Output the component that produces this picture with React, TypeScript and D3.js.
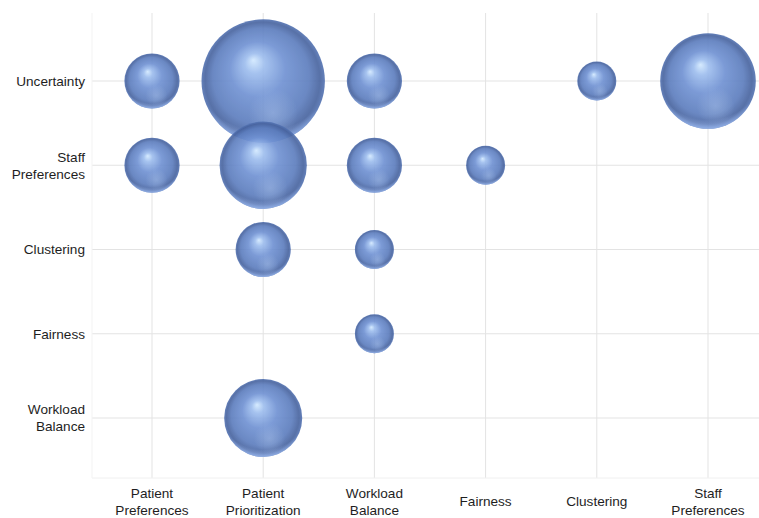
import * as d3 from "d3";

const xCategories: string[][] = [
  ["Patient", "Preferences"],
  ["Patient", "Prioritization"],
  ["Workload", "Balance"],
  ["Fairness"],
  ["Clustering"],
  ["Staff", "Preferences"],
];
const yCategories: string[][] = [
  ["Uncertainty"],
  ["Staff", "Preferences"],
  ["Clustering"],
  ["Fairness"],
  ["Workload", "Balance"],
];

// bubble = (x index, y index, count)
const xIdx = [0, 1, 2, 4, 5, 0, 1, 2, 3, 1, 2, 2, 1];
const yIdx = [0, 0, 0, 0, 0, 1, 1, 1, 1, 2, 2, 3, 4];
const counts = [2, 10, 2, 1, 6, 2, 5, 2, 1, 2, 1, 1, 4];

function App() {
  const width = 759;
  const height = 518;
  const plot = { left: 92, right: 759, top: 13, bottom: 478 };

  const x = d3.scalePoint<number>().domain(d3.range(xCategories.length)).range([152, 708]);
  const y = d3.scalePoint<number>().domain(d3.range(yCategories.length)).range([81, 418]);
  const r = d3.scaleSqrt().domain([0, 10]).range([0, 61.7]);

  const font = "'Liberation Sans', Arial, sans-serif";
  const fontSize = 13.6;
  const lineH = 17;

  const bubbles = counts.map((c, i) => ({ x: xIdx[i], y: yIdx[i], c }));

  return (
    <svg width={width} height={height} style={{ position: "absolute", left: 0, top: 0 }}>
      <defs>
        <radialGradient id="sphere" cx="0.5" cy="0.5" r="0.5" fx="0.42" fy="0.33">
          <stop offset="0" stopColor="#d2e9ff" />
          <stop offset="0.16" stopColor="#9dbdee" />
          <stop offset="0.45" stopColor="#6e90d2" />
          <stop offset="0.78" stopColor="#5b7cbd" />
          <stop offset="0.93" stopColor="#46629e" />
          <stop offset="1" stopColor="#5373b3" />
        </radialGradient>
        <radialGradient id="rim" cx="0.5" cy="0.3" r="0.72">
          <stop offset="0.84" stopColor="#8fb0ec" stopOpacity="0" />
          <stop offset="0.95" stopColor="#8fb0ec" stopOpacity="0.7" />
          <stop offset="1" stopColor="#9dbcf3" stopOpacity="0.9" />
        </radialGradient>
        <radialGradient id="spot" cx="0.58" cy="0.76" r="0.2">
          <stop offset="0" stopColor="#a9c3ec" stopOpacity="0.4" />
          <stop offset="1" stopColor="#a9c3ec" stopOpacity="0" />
        </radialGradient>
        <clipPath id="plotClip">
          <rect x={plot.left} y={0} width={plot.right - plot.left} height={height} />
        </clipPath>
      </defs>
      <rect width={width} height={height} fill="#fff" />

      {/* grid */}
      <g stroke="#e3e3e3" strokeWidth={1}>
        {x.domain().map((d) => (
          <line key={"vx" + d} x1={x(d)} x2={x(d)} y1={plot.top} y2={plot.bottom} />
        ))}
        {y.domain().map((d) => (
          <line key={"hy" + d} x1={plot.left} x2={plot.right} y1={y(d)} y2={y(d)} />
        ))}
        <line x1={plot.left} x2={plot.right} y1={plot.bottom} y2={plot.bottom} stroke="#f0f0f0" />
        <line x1={plot.left} x2={plot.left} y1={plot.top} y2={plot.bottom} stroke="#f3f3f3" />
      </g>

      {/* bubbles */}
      <g clipPath="url(#plotClip)">
        {bubbles.map((b, i) => {
          const cx = x(b.x)!;
          const cy = y(b.y)!;
          const rr = r(b.c);
          return (
            <g key={i} opacity={0.9}>
              <circle cx={cx} cy={cy} r={rr} fill="url(#sphere)" />
              <circle cx={cx} cy={cy} r={rr} fill="url(#spot)" />
              <circle cx={cx} cy={cy} r={rr} fill="url(#rim)" />
            </g>
          );
        })}
      </g>

      {/* y labels */}
      <g fontFamily={font} fontSize={fontSize} fill="#1e1e1e" textAnchor="end">
        {yCategories.map((lines, i) => (
          <text key={i} x={85} y={y(i)! - ((lines.length - 1) * lineH) / 2}>
            {lines.map((l, j) => (
              <tspan key={j} x={85} dy={j === 0 ? "0.35em" : lineH}>
                {l}
              </tspan>
            ))}
          </text>
        ))}
      </g>

      {/* x labels */}
      <g fontFamily={font} fontSize={fontSize} fill="#1e1e1e" textAnchor="middle">
        {xCategories.map((lines, i) => (
          <text key={i} x={x(i)} y={501.5 - ((lines.length - 1) * lineH) / 2}>
            {lines.map((l, j) => (
              <tspan key={j} x={x(i)} dy={j === 0 ? "0.35em" : lineH}>
                {l}
              </tspan>
            ))}
          </text>
        ))}
      </g>
    </svg>
  );
}

export default App;
